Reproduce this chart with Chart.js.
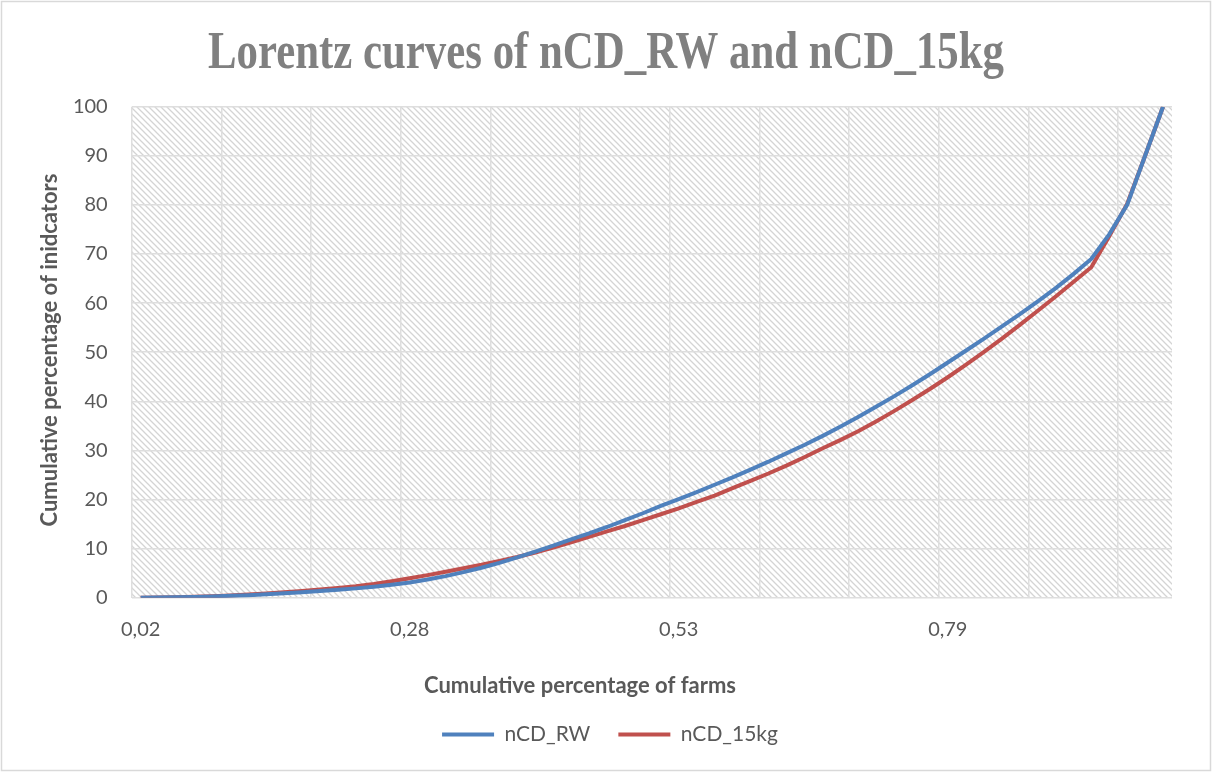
<!DOCTYPE html>
<html>
<head>
<meta charset="utf-8">
<script src="https://cdn.jsdelivr.net/npm/chart.js@4.4.1/dist/chart.umd.min.js"></script>
<style>
  html, body { margin: 0; padding: 0; background: #fff; }
  #wrap { width: 1212px; height: 772px; position: relative; }
</style>
</head>
<body>
<div id="wrap"><canvas id="lorenz"></canvas></div>
<script>
// ── data ──────────────────────────────────────────────────────────────────────
const farmShare = [
  '0,02','0,03','0,05','0,07','0,09','0,10','0,12','0,14','0,16','0,17',
  '0,19','0,21','0,22','0,24','0,26','0,28','0,29','0,31','0,33','0,34',
  '0,36','0,38','0,40','0,41','0,43','0,45','0,47','0,48','0,50','0,52',
  '0,53','0,55','0,57','0,59','0,60','0,62','0,64','0,66','0,67','0,69',
  '0,71','0,72','0,74','0,76','0,78','0,79','0,81','0,83','0,84','0,86',
  '0,88','0,90','0,91','0,93','0,95','0,97','0,98','1,00',
]

const nCD_RW = [
  0.0, 0.03, 0.08, 0.15, 0.25, 0.38, 0.52, 0.7, 0.9, 1.1,
  1.35, 1.6, 1.9, 2.25, 2.65, 3.1, 3.7, 4.4, 5.2, 6.1,
  7.1, 8.2, 9.4, 10.6, 11.9, 13.1, 14.4, 15.8, 17.2, 18.7,
  20.1, 21.5, 23.0, 24.5, 26.1, 27.7, 29.4, 31.1, 32.9, 34.8,
  36.8, 38.9, 41.0, 43.2, 45.5, 47.9, 50.3, 52.7, 55.2, 57.7,
  60.3, 63.0, 65.9, 69.0, 74.0, 80.0, 90.0, 100.0,
]

const nCD_15kg = [
  0.0, 0.05, 0.1, 0.2, 0.3, 0.45, 0.65, 0.85, 1.1, 1.35,
  1.65, 2.0, 2.35, 2.8, 3.35, 3.95, 4.6, 5.3, 6.0, 6.7,
  7.5, 8.3, 9.2, 10.2, 11.3, 12.4, 13.5, 14.6, 15.8, 17.0,
  18.2, 19.5, 20.8, 22.3, 23.8, 25.3, 26.9, 28.6, 30.4, 32.1,
  33.9, 35.9, 38.0, 40.2, 42.5, 44.9, 47.4, 50.0, 52.7, 55.5,
  58.4, 61.3, 64.3, 67.3, 73.6, 80.2, 90.0, 100.0,
]

const yTicks = [0, 10, 20, 30, 40, 50, 60, 70, 80, 90, 100]

const chartTitle = 'Lorentz curves of nCD_RW and nCD_15kg'
const xTitle = 'Cumulative percentage of farms'
const yTitle = 'Cumulative percentage of inidcators'

// ── styles ────────────────────────────────────────────────────────────────────
const TXT   = '#595959'
const GRID  = '#dedede'
const SANS  = 'Lato, "Liberation Sans", sans-serif'

// diagonal hatch used as the plot-area fill
function hatchPattern(ctx) {
  const s = 6
  const c = document.createElement('canvas')
  c.width = s; c.height = s
  const p = c.getContext('2d')
  p.fillStyle = '#ffffff'
  p.fillRect(0, 0, s, s)
  p.strokeStyle = '#d4d4d4'
  p.lineWidth = 1.3
  p.beginPath()
  p.moveTo(-1, -1);    p.lineTo(s + 1, s + 1)
  p.moveTo(-1, s - 1); p.lineTo(1, s + 1)
  p.moveTo(s - 1, -1); p.lineTo(s + 1, 1)
  p.stroke()
  return ctx.createPattern(c, 'repeat')
}

const plotDecor = {
  id: 'plotDecor',
  beforeDraw(chart) {
    const { ctx, chartArea: a } = chart
    ctx.save()
    ctx.fillStyle = hatchPattern(ctx)
    ctx.fillRect(a.left, a.top, a.right - a.left, a.bottom - a.top)
    ctx.restore()
  },
  afterDraw(chart) {
    const { ctx, width, height } = chart
    // chart title, squeezed to the width a condensed serif would take
    ctx.save()
    ctx.fillStyle = '#808080'
    ctx.font = 'bold 52px "Liberation Serif", serif'
    ctx.textAlign = 'center'
    ctx.textBaseline = 'alphabetic'
    const tw = ctx.measureText(chartTitle).width
    ctx.translate(606, 68)
    ctx.scale(Math.min(1, 796 / tw), 1)
    ctx.fillText(chartTitle, 0, 0)
    ctx.restore()

    // axis titles
    ctx.save()
    ctx.fillStyle = TXT
    ctx.font = 'bold 22px ' + SANS
    ctx.textAlign = 'center'
    ctx.textBaseline = 'middle'
    ctx.fillText(xTitle, 580, 686)
    ctx.translate(50, 350)
    ctx.rotate(-Math.PI / 2)
    ctx.fillText(yTitle, 0, 0)
    ctx.restore()

    // outer frame
    ctx.save()
    ctx.strokeStyle = '#d9d9d9'
    ctx.lineWidth = 1.5
    ctx.strokeRect(1.5, 1.5, width - 3, height - 3)
    ctx.restore()
  },
}

new Chart(document.getElementById('lorenz'), {
  type: 'line',
  data: {
    labels: farmShare,
    datasets: [
      { label: 'nCD_RW',   data: nCD_RW,   borderColor: '#4F81BD', backgroundColor: '#4F81BD' },
      { label: 'nCD_15kg', data: nCD_15kg, borderColor: '#C0504D', backgroundColor: '#C0504D' },
    ].map(d => ({ ...d, borderWidth: 4, pointRadius: 0, tension: 0, pointStyle: 'line' })),
  },
  options: {
    responsive: true,
    maintainAspectRatio: false,
    animation: false,
    layout: { padding: { left: 48, right: 40, top: 106.7, bottom: 17 } },
    scales: {
      x: {
        type: 'category',
        offset: true,
        border: { display: false },
        grid: {
          offset: true,
          drawTicks: false,
          lineWidth: 1.5,
          color: c => (c.index % 5 === 0 ? GRID : 'rgba(0,0,0,0)'),
        },
        ticks: {
          autoSkip: false,
          maxRotation: 0,
          minRotation: 0,
          padding: 20,
          color: TXT,
          font: { family: SANS, size: 20 },
          callback(v, i) { return i % 15 === 0 ? this.getLabelForValue(v) : '' },
        },
        afterFit(s) { s.height = 98.3 },
      },
      y: {
        min: 0, max: 100,
        border: { display: false },
        grid: { drawTicks: false, lineWidth: 1.5, color: GRID },
        afterBuildTicks(s) { s.ticks = yTicks.map(v => ({ value: v })) },
        ticks: {
          padding: 24,
          color: TXT,
          font: { family: SANS, size: 20 },
        },
        afterFit(s) { s.width = 83.7 },
      },
    },
    plugins: {
      title: { display: false },
      legend: {
        position: 'bottom',
        labels: {
          usePointStyle: true,
          pointStyleWidth: 52,
          boxHeight: 20,
          padding: 28,
          color: TXT,
          font: { family: SANS, size: 21 },
        },
      },
      tooltip: { enabled: false },
    },
  },
  plugins: [plotDecor],
})
</script>
</body>
</html>
